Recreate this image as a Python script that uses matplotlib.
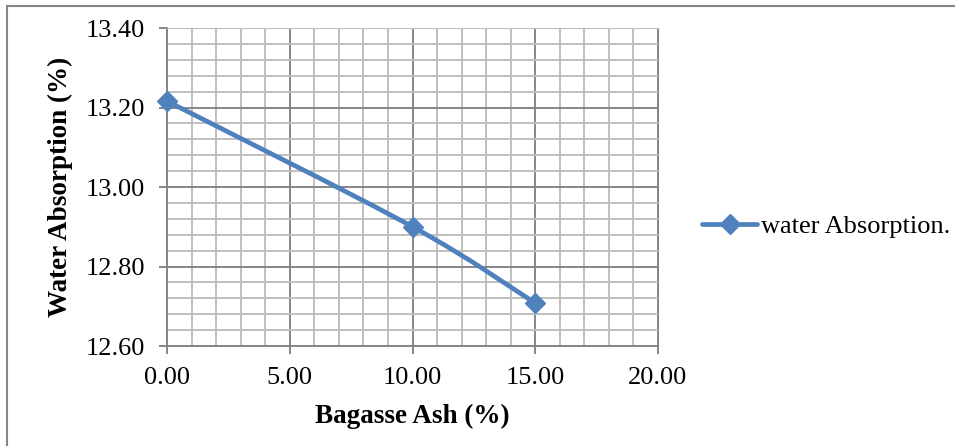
#!/usr/bin/env python3
"""Water absorption vs bagasse ash content, Excel-style smoothed scatter."""

import numpy as np
import matplotlib
matplotlib.use("Agg")
import matplotlib.pyplot as plt
from matplotlib.path import Path
from matplotlib.patches import PathPatch, Rectangle
from matplotlib.lines import Line2D
from matplotlib.ticker import MultipleLocator, FormatStrFormatter

ash = [0.0, 10.0, 15.0]
absorption = [13.216, 12.90, 12.708]
series_name = "water Absorption."
x_label = "Bagasse Ash (%)"
y_label = "Water Absorption (%)"

BLUE = "#4F81BD"
MAJOR_GRID = "#868686"
MINOR_GRID = "#BFBFBF"


def smooth_path(xs, ys, sx, sy, t=1.0 / 6.0):
    """Bezier path through the points, like Excel's smoothed line."""
    p = np.column_stack([np.array(xs) * sx, np.array(ys) * sy])
    n = len(p)
    verts = [p[0]]
    codes = [Path.MOVETO]
    for i in range(n - 1):
        prev = p[i - 1] if i > 0 else p[i]
        nxt = p[i + 2] if i + 2 < n else p[i + 1]
        c1 = p[i] + (p[i + 1] - prev) * t
        c2 = p[i + 1] - (nxt - p[i]) * t
        verts += [c1, c2, p[i + 1]]
        codes += [Path.CURVE4] * 3
    verts = np.array(verts)
    verts[:, 0] /= sx
    verts[:, 1] /= sy
    return Path(verts, codes)


def main():
    plt.rcParams["font.family"] = ["Liberation Serif", "DejaVu Serif"]

    fig = plt.figure(figsize=(9.55, 4.46), dpi=100)
    ax = fig.add_axes([0.1749, 0.2242, 0.5141, 0.713])

    xmin, xmax, ymin, ymax = 0, 20, 12.6, 13.4
    ax.set_xlim(xmin, xmax)
    ax.set_ylim(ymin, ymax)

    ax.xaxis.set_major_locator(MultipleLocator(5))
    ax.xaxis.set_minor_locator(MultipleLocator(1))
    ax.yaxis.set_major_locator(MultipleLocator(0.2))
    ax.yaxis.set_minor_locator(MultipleLocator(0.04))
    ax.xaxis.set_major_formatter(FormatStrFormatter("%.2f"))
    ax.yaxis.set_major_formatter(FormatStrFormatter("%.2f"))

    ax.grid(which="minor", color=MINOR_GRID, linewidth=1.4)
    ax.grid(which="major", color=MAJOR_GRID, linewidth=1.4)
    ax.set_axisbelow(True)

    ax.tick_params(which="major", direction="out", length=6, width=1.4,
                   color=MAJOR_GRID, labelsize=19)
    ax.tick_params(axis="x", pad=9)
    ax.tick_params(axis="y", pad=10)
    ax.tick_params(which="minor", length=0)
    for side in ["left", "bottom"]:
        ax.spines[side].set_color(MAJOR_GRID)
        ax.spines[side].set_linewidth(1.4)
    ax.spines["top"].set_color(MINOR_GRID)
    ax.spines["right"].set_color(MAJOR_GRID)

    # smoothed line, scaled to pixel-like aspect before building the curve
    sx = 491.0 / (xmax - xmin)
    sy = 318.0 / (ymax - ymin)
    path = smooth_path(ash, absorption, sx, sy)
    ax.add_patch(PathPatch(path, facecolor="none", edgecolor=BLUE,
                           linewidth=3.4, capstyle="round", zorder=3))
    ax.plot(ash, absorption, linestyle="none", marker="D", markersize=10,
            color=BLUE, clip_on=False, zorder=4)

    ax.set_xlabel(x_label, fontsize=19.5, fontweight="bold", labelpad=11)
    ax.set_ylabel(y_label, fontsize=19.5, fontweight="bold", labelpad=9)

    handle = Line2D([], [], color=BLUE, linewidth=3.4, marker="D",
                    markersize=10, solid_capstyle="round")
    fig.legend([handle], [series_name], loc="center left",
               bbox_to_anchor=(0.7245, 0.493), frameon=False, fontsize=19,
               handlelength=2.05, handletextpad=0.15, borderaxespad=0)

    # chart area border (right/bottom fall outside the image)
    fig.patches.append(Rectangle((7 / 955, -0.05), 1.1, 1 - 6 / 446 + 0.05,
                                 transform=fig.transFigure, fill=False,
                                 edgecolor=MAJOR_GRID, linewidth=1.5))

    fig.savefig("out.png", dpi=100)


if __name__ == "__main__":
    main()
